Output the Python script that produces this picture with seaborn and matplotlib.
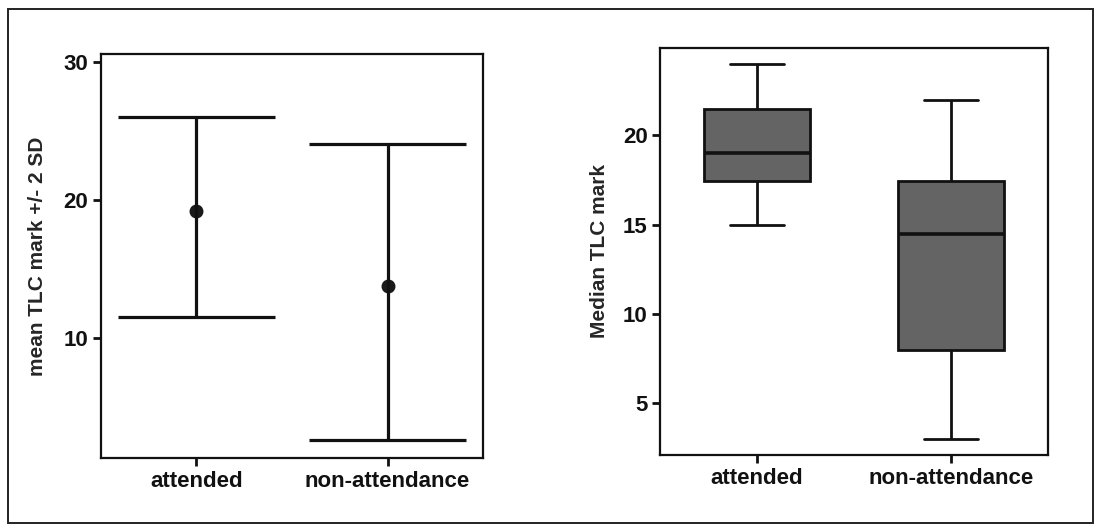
import numpy as np
import pandas as pd
import matplotlib
matplotlib.use("Agg")
import matplotlib.pyplot as plt
import seaborn as sns
from matplotlib.patches import Rectangle

# groups on both panels
groups = ["attended", "non-attendance"]

# left panel: mean TLC mark with the mean - 2 SD and mean + 2 SD ends
means = [19.2, 13.8]
lower_2sd = [11.5, 2.6]
upper_2sd = [26.05, 24.05]

# right panel: five-number summaries (min, Q1, median, Q3, max)
attended_summary = [15, 17.45, 19, 21.45, 24]
nonatt_summary = [3, 8, 14.5, 17.45, 22]

sns.set_style("ticks")
plt.rcParams["font.family"] = ["Liberation Sans", "DejaVu Sans"]
plt.rcParams["font.weight"] = "bold"
plt.rcParams["axes.linewidth"] = 1.6

LW = 2.3
fig = plt.figure(figsize=(11, 5.25), dpi=100)

# outer frame round the whole picture
fig.patches.append(Rectangle((0.007, 0.004), 0.987, 0.979, transform=fig.transFigure,
                             fill=False, edgecolor="#222222", linewidth=1.4))

# ---- left panel: mean +/- 2 SD ----
ax1 = fig.add_axes([0.0918, 0.1276, 0.3473, 0.7695])
left_df = pd.DataFrame({"group": groups, "mean": means})
sns.pointplot(data=left_df, x="group", y="mean", errorbar=None, linestyle="none",
              color="#1a1a1a", marker="o", markersize=8, ax=ax1)
pos = np.arange(len(groups))
lo = np.array(lower_2sd)
hi = np.array(upper_2sd)
ax1.vlines(pos, lo, hi, color="#111111", linewidth=LW)
ax1.hlines(lo, pos - 0.41, pos + 0.41, color="#111111", linewidth=LW)
ax1.hlines(hi, pos - 0.41, pos + 0.41, color="#111111", linewidth=LW)
ax1.set_xlim(-0.5, 1.5)
ax1.set_ylim(1.3, 30.6)
ax1.set_yticks([10, 20, 30])
ax1.set_xlabel("")
ax1.set_ylabel("mean TLC mark +/- 2 SD", fontsize=15, fontweight="bold", labelpad=12)

# ---- right panel: boxplot ----
ax2 = fig.add_axes([0.6, 0.1333, 0.3527, 0.7758])
right_df = pd.DataFrame({
    "group": [groups[0]] * len(attended_summary) + [groups[1]] * len(nonatt_summary),
    "mark": attended_summary + nonatt_summary,
})
sns.boxplot(data=right_df, x="group", y="mark", whis=np.inf, width=0.55,
            color="#646464", linecolor="#111111", linewidth=2.0, saturation=1,
            medianprops={"linewidth": 2.6}, ax=ax2)
ax2.set_xlim(-0.5, 1.5)
ax2.set_ylim(2.1, 24.9)
ax2.set_yticks([5, 10, 15, 20])
ax2.set_xlabel("")
ax2.set_ylabel("Median TLC mark", fontsize=15, fontweight="bold", labelpad=10)

for ax in (ax1, ax2):
    for side in ["top", "right", "left", "bottom"]:
        ax.spines[side].set_visible(True)
        ax.spines[side].set_color("#111111")
    ax.tick_params(axis="both", length=6, width=2, color="#111111",
                   labelsize=16, labelcolor="#111111", pad=3)
    for lab in ax.get_xticklabels() + ax.get_yticklabels():
        lab.set_fontweight("bold")
    ax.grid(False)

fig.savefig("out.png", dpi=100, facecolor="white")
